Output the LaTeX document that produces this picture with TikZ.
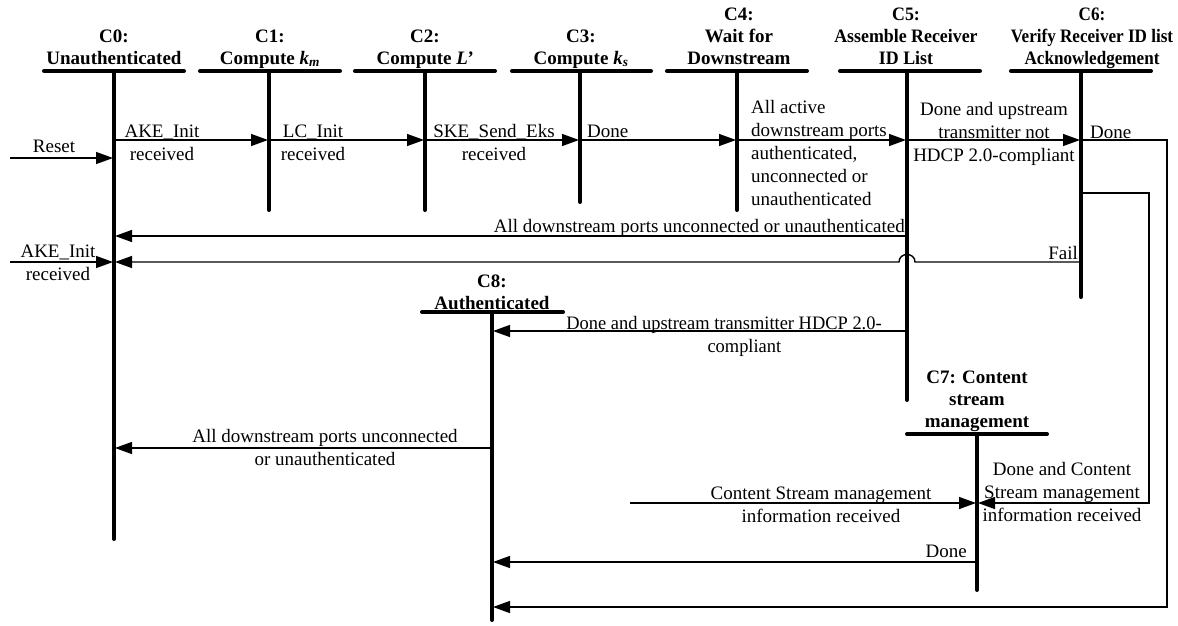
\documentclass[tikz,border=0pt]{standalone}
\usepackage{fontspec}
\usepackage{graphicx}
\setmainfont{Liberation Serif}
\usetikzlibrary{arrows.meta}
\newcommand\hdrfont{\fontsize{19}{22}\selectfont\bfseries}
\newcommand\lblfont{\fontsize{19}{23}\selectfont}
\newcommand\mlc[1]{\begin{tabular}[t]{@{}c@{}}#1\end{tabular}}
\newcommand\mll[1]{\begin{tabular}[t]{@{}l@{}}#1\end{tabular}}
\begin{document}
\begin{tikzpicture}[x=1pt,y=-1pt,
  life/.style={line width=4pt,line cap=round},
  wire/.style={line width=1.4pt},
  msg/.style={wire,-{Triangle[length=17pt,width=12pt]},shorten >=1pt},
  hdr/.style={font=\hdrfont,inner sep=0pt,anchor=base},
  lbl/.style={font=\lblfont,inner sep=0pt,anchor=base}]
\useasboundingbox (0,0) rectangle (1178,625);

% lifeline tops / bottoms
\coordinate (C0) at (114,71);  \coordinate (C0e) at (114,539);
\coordinate (C1) at (269,71);  \coordinate (C1e) at (269,210);
\coordinate (C2) at (425,71);  \coordinate (C2e) at (425,210);
\coordinate (C3) at (580,71);  \coordinate (C3e) at (580,202);
\coordinate (C4) at (737,71);  \coordinate (C4e) at (737,210);
\coordinate (C5) at (907,71);  \coordinate (C5e) at (907,400);
\coordinate (C6) at (1081,71); \coordinate (C6e) at (1081,297);
\coordinate (C7) at (977,434); \coordinate (C7e) at (977,590);
\coordinate (C8) at (492,312); \coordinate (C8e) at (492,620);

% header bars
\draw[life] (44,71) -- (184,71);
\draw[life] (200,71) -- (340,71);
\draw[life] (355,71) -- (495,71);
\draw[life] (512,71) -- (651,71);
\draw[life] (667,71) -- (807,71);
\draw[life] (840,71) -- (980,71);
\draw[life] (1011,71) -- (1151,71);
\draw[life] (907,434) -- (1047,434);
\draw[life] (422,312) -- (563,312);

% lifelines
\foreach \s in {0,...,8} \draw[life] (C\s) -- (C\s e);

% headers
\node[hdr] (h0) at (114,42) {\mlc{C0:\\Unauthenticated}};
\node[hdr] (h1) at (270,42) {\mlc{C1:\\Compute \textit{k}\textsubscript{\textit{m}}}};
\node[hdr] (h2) at (425,42) {\mlc{C2:\\Compute \textit{L’}}};
\node[hdr] (h3) at (581,42) {\mlc{C3:\\Compute \textit{k}\textsubscript{\textit{s}}}};
\node[hdr] (h4) at (739,20) {\mlc{C4:\\Wait for\\Downstream}};
\node[hdr] (h5) at (906,20) {\scalebox{0.94}[1]{\mlc{C5:\\Assemble Receiver\\ID List}}};
\node[hdr] (h6) at (1092,20) {\scalebox{0.9}[1]{\mlc{C6:\\Verify Receiver ID list\\Acknowledgement}}};
\node[hdr] (h7) at (977,383) {\mlc{C7: Content\\stream\\management}};
\node[hdr] (h8) at (492,287) {\mlc{C8:\\Authenticated}};

% levels
\coordinate (y140) at (0,140);
\coordinate (y158) at (0,158);
\coordinate (y193) at (0,193);
\coordinate (y236) at (0,236);
\coordinate (y262) at (0,262);
\coordinate (y331) at (0,331);
\coordinate (y448) at (0,448);
\coordinate (y503) at (0,503);
\coordinate (y562) at (0,562);
\coordinate (y607) at (0,607);
\coordinate (resetS) at (10,158);
\coordinate (akeS) at (10,262);
\coordinate (csS) at (630,503);
\coordinate (hopR) at (915,262);
\coordinate (hopL) at (899,262);
\coordinate (inA) at (1149,193);
\coordinate (inB) at (1149,503);
\coordinate (outA) at (1167,140);
\coordinate (outB) at (1167,607);

% connectors
\draw[msg] (resetS) -- (C0 |- y158);
\draw[msg] (C0 |- y140) -- (C1 |- y140);
\draw[msg] (C1 |- y140) -- (C2 |- y140);
\draw[msg] (C2 |- y140) -- (C3 |- y140);
\draw[msg] (C3 |- y140) -- (C4 |- y140);
\draw[msg] (C4 |- y140) -- (C5 |- y140);
\draw[msg] (C5 |- y140) -- (C6 |- y140);
\draw[msg] (C5 |- y236) -- (C0 |- y236);
\draw[msg] (akeS) -- (C0 |- y262);
\draw[msg] (C6 |- y262) -- (hopR) .. controls +(0,-10) and +(0,-10) .. (hopL) -- (C0 |- y262);
\draw[msg] (C5 |- y331) -- (C8 |- y331);
\draw[msg] (C8 |- y448) -- (C0 |- y448);
\draw[msg] (csS) -- (C7 |- y503);
\draw[msg] (C6 |- y193) -- (inA) -- (inB) -- (C7 |- y503);
\draw[msg] (C7 |- y562) -- (C8 |- y562);
\draw[msg] (C6 |- y140) -- (outA) -- (outB) -- (C8 |- y607);

% labels
\node[lbl] (lReset) at (54,152) {Reset};
\node[lbl] (l01) at (162,137) {\mlc{AKE\_Init\\received}};
\node[lbl] (l12) at (313,137) {\mlc{LC\_Init\\received}};
\node[lbl] (l23) at (494,137) {\mlc{SKE\_Send\_Eks\\received}};
\node[lbl,anchor=base west] (l34) at (587,137) {Done};
\node[lbl,anchor=base west] (l45) at (751,113) {\mll{All active\\downstream ports\\authenticated,\\unconnected or\\unauthenticated}};
\node[lbl] (l56) at (994,115) {\mlc{Done and upstream\\transmitter not\\HDCP 2.0-compliant}};
\node[lbl,anchor=base west] (l6o) at (1090,138) {Done};
\node[lbl,anchor=base east] (l50) at (905,232) {All downstream ports unconnected or unauthenticated};
\node[lbl] (lAke) at (58,257) {\mlc{AKE\_Init\\received}};
\node[lbl,anchor=base east] (lFail) at (1078,259) {Fail};
\node[lbl] (l58) at (724,329) {\scalebox{0.97}[1]{\mlc{Done and upstream transmitter HDCP 2.0-\\\hspace*{42pt}compliant}}};
\node[lbl] (l80) at (325,442) {\mlc{All downstream ports unconnected\\or unauthenticated}};
\node[lbl] (lcs) at (821,499) {\mlc{Content Stream management\\information received}};
\node[lbl] (l67) at (1062,475) {\mlc{Done and Content\\Stream management\\information received}};
\node[lbl,anchor=base east] (l78) at (967,557) {Done};
\end{tikzpicture}
\end{document}
